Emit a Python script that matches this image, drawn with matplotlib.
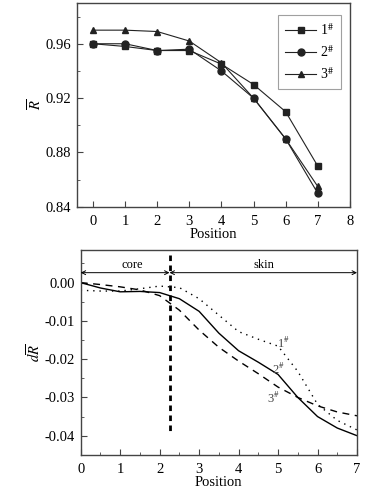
import matplotlib
matplotlib.use("Agg")
import matplotlib.pyplot as plt
import numpy as np
from matplotlib.ticker import MultipleLocator, FormatStrFormatter

plt.rcParams['font.family'] = ['Liberation Serif', 'DejaVu Serif']
plt.rcParams['mathtext.fontset'] = 'stix'
plt.rcParams['font.size'] = 10.5

# top panel: mean R per position
pos = [0, 1, 2, 3, 4, 5, 6, 7]
r_1 = [0.960, 0.958, 0.955, 0.955, 0.945, 0.930, 0.910, 0.870]
r_2 = [0.960, 0.960, 0.955, 0.956, 0.940, 0.920, 0.890, 0.850]
r_3 = [0.970, 0.970, 0.969, 0.962, 0.946, 0.920, 0.890, 0.855]
labels = ['1$^{\\#}$', '2$^{\\#}$', '3$^{\\#}$']

# bottom panel: dR along position
x_d = [0, 0.5, 1, 1.5, 2, 2.5, 3, 3.5, 4, 4.5, 5, 5.5, 6, 6.5, 7]
dr_1 = [-0.0020, -0.0022, -0.0022, -0.0016, -0.0009, -0.0013, -0.0042, -0.0085,
        -0.0128, -0.0148, -0.0166, -0.0232, -0.0318, -0.0360, -0.0385]
dr_2 = [0.0, -0.0014, -0.0024, -0.0023, -0.0026, -0.0042, -0.0075, -0.0132,
        -0.0178, -0.0208, -0.0240, -0.0300, -0.0350, -0.0380, -0.0400]
dr_3 = [0.0, -0.0005, -0.0011, -0.0019, -0.0034, -0.0072, -0.0124, -0.0169,
        -0.0205, -0.0238, -0.0273, -0.0300, -0.0322, -0.0338, -0.0348]
boundary = 2.25

fig = plt.figure(figsize=(3.77, 4.96), dpi=100)
spine_c = '#444444'

ax1 = fig.add_axes([0.204, 0.583, 0.724, 0.411])
ax1.plot(pos, r_1, marker='s', color='#222222', lw=0.8, ms=5, label=labels[0])
ax1.plot(pos, r_2, marker='o', color='#222222', lw=0.8, ms=5, label=labels[1])
ax1.plot(pos, r_3, marker='^', color='#222222', lw=0.8, ms=5, label=labels[2])
ax1.set_xlim(-0.5, 8)
ax1.set_ylim(0.84, 0.99)
ax1.xaxis.set_major_locator(MultipleLocator(1))
ax1.yaxis.set_major_locator(MultipleLocator(0.04))
ax1.yaxis.set_minor_locator(MultipleLocator(0.02))
ax1.set_xlabel('Position', labelpad=0)
ax1.set_ylabel('$\\overline{R}$', labelpad=1)
leg = ax1.legend(loc='upper right', bbox_to_anchor=(0.993, 0.975), fancybox=False,
                 edgecolor='#888888', fontsize=10, handlelength=2.2,
                 borderpad=0.5, labelspacing=0.45, handletextpad=0.3)
leg.get_frame().set_linewidth(0.8)

ax2 = fig.add_axes([0.214, 0.083, 0.733, 0.412])
ax2.plot(x_d, dr_1, color='black', lw=1.0, linestyle=(0, (1, 3.5)))
ax2.plot(x_d, dr_2, color='black', lw=1.0, linestyle='-')
ax2.plot(x_d, dr_3, color='black', lw=1.0, linestyle=(0, (5, 4)))
ax2.plot([boundary, boundary], [0.0071, -0.0392], color='black', lw=2,
         linestyle=(0, (2, 1.6)))
arr = dict(arrowstyle='<->', color='black', lw=0.7, shrinkA=0, shrinkB=0,
           mutation_scale=7)
ax2.annotate('', xy=(0, 0.0026), xytext=(boundary, 0.0026), arrowprops=arr)
ax2.annotate('', xy=(boundary, 0.0026), xytext=(7, 0.0026), arrowprops=arr)
ax2.text(1.3, 0.0045, 'core', ha='center', va='center', fontsize=9)
ax2.text(4.65, 0.0045, 'skin', ha='center', va='center', fontsize=9)
ax2.text(5.14, -0.0159, labels[0], ha='center', va='center', fontsize=9, color='#444444')
ax2.text(5.01, -0.0228, labels[1], ha='center', va='center', fontsize=9, color='#444444')
ax2.text(4.89, -0.0302, labels[2], ha='center', va='center', fontsize=9, color='#444444')
ax2.set_xlim(0, 7)
ax2.set_ylim(-0.045, 0.0084)
ax2.xaxis.set_major_locator(MultipleLocator(1))
ax2.xaxis.set_minor_locator(MultipleLocator(0.5))
ax2.yaxis.set_major_locator(MultipleLocator(0.01))
ax2.yaxis.set_minor_locator(MultipleLocator(0.005))
ax2.yaxis.set_major_formatter(FormatStrFormatter('%.2f'))
ax2.set_xlabel('Position', labelpad=0)
ax2.set_ylabel('$d\\overline{R}$', labelpad=1)

for ax in (ax1, ax2):
    for s in ax.spines.values():
        s.set_color(spine_c)
        s.set_linewidth(1.0)
    ax.tick_params(which='both', direction='in', top=False, right=False,
                   color=spine_c, pad=4)
    ax.tick_params(which='major', length=4)
    ax.tick_params(which='minor', length=2.5)
    ax.tick_params(axis='x', pad=6)

fig.savefig('out.png', dpi=100)
